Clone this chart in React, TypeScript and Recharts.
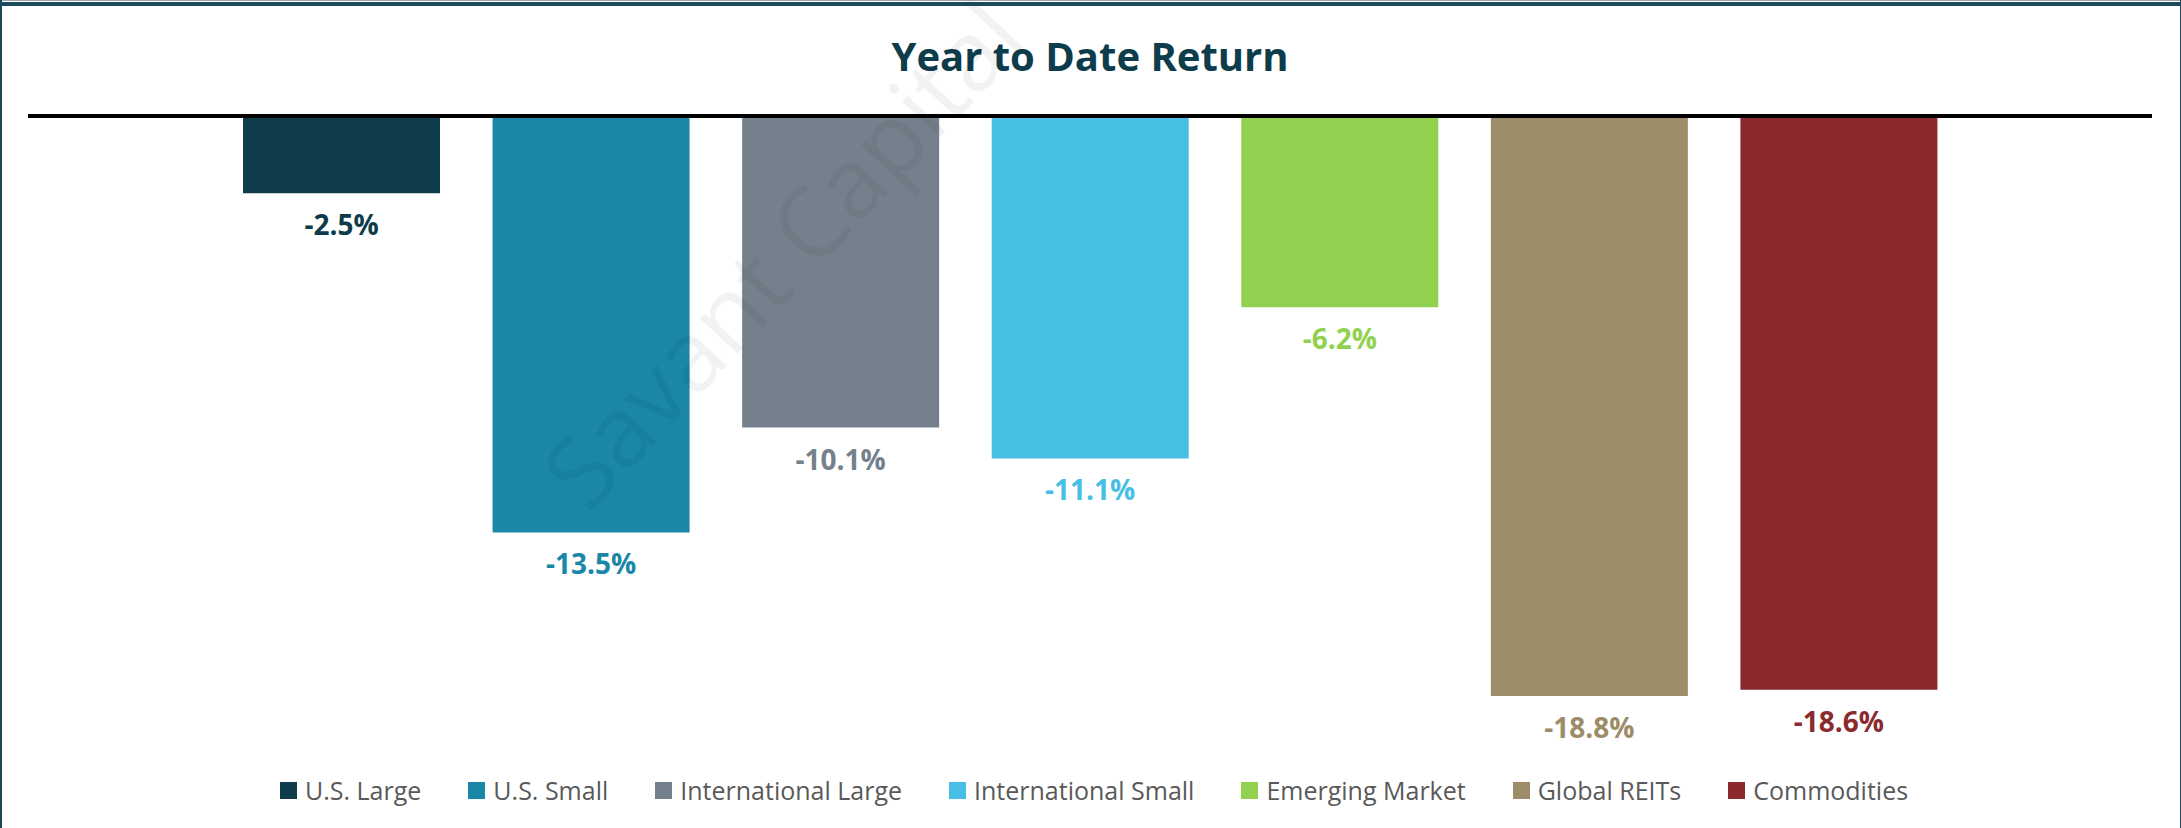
import { BarChart, Bar, XAxis, YAxis, Cell, LabelList, Legend, ReferenceLine } from "recharts";

// asset classes and their year-to-date returns (%)
const CATEGORIES = [
  "U.S. Large",
  "U.S. Small",
  "International Large",
  "International Small",
  "Emerging Market",
  "Global REITs",
  "Commodities",
];
const RETURNS = [-2.5, -13.5, -10.1, -11.1, -6.2, -18.8, -18.6];
const COLORS = ["#0e3c4a", "#1a87a8", "#74818c", "#47bfe4", "#92d050", "#9c8c68", "#8b2a2e"];

const data = CATEGORIES.map((name, i) => ({ name, value: RETURNS[i], color: COLORS[i] }));

const W = 2181;
const H = 828;
const FONT = "'Open Sans', 'DejaVu Sans', sans-serif";

function ValueLabel(props: any) {
  const { x, y, width, height, index } = props;
  const bottom = Math.max(y, y + height);
  return (
    <text
      x={x + width / 2}
      y={bottom + 42}
      textAnchor="middle"
      fontFamily={FONT}
      fontWeight={700}
      fontSize={28}
      fill={COLORS[index]}
    >
      {RETURNS[index].toFixed(1)}%
    </text>
  );
}

function LegendRow() {
  return (
    <div style={{ display: "flex", alignItems: "center", height: 40, fontFamily: FONT, fontSize: 25, color: "#595959" }}>
      {CATEGORIES.map((c, i) => (
        <div key={c} style={{ display: "flex", alignItems: "center", marginRight: 47, whiteSpace: "nowrap" }}>
          <span style={{ display: "inline-block", width: 17, height: 17, background: COLORS[i], marginRight: 8 }} />
          <span style={{ lineHeight: "40px" }}>{c}</span>
        </div>
      ))}
    </div>
  );
}

export default function App() {
  return (
    <div style={{ position: "absolute", left: 0, top: 0, width: W, height: H, background: "#fff", overflow: "hidden" }}>
      <BarChart
        width={W}
        height={H}
        data={data}
        margin={{ top: 116, right: 29, left: 28, bottom: 95 }}
      >
        <YAxis hide domain={[-20, 0]} />
        <XAxis
          dataKey="name"
          orientation="top"
          height={0}
          tick={false}
          tickLine={false}
          axisLine={false}
          padding={{ left: 189, right: 188 }}
        />
        <Bar dataKey="value" barSize={197} isAnimationActive={false}>
          {data.map((d) => (
            <Cell key={d.name} fill={d.color} />
          ))}
          <LabelList dataKey="value" content={ValueLabel} />
        </Bar>
        <ReferenceLine y={0} stroke="#000" strokeWidth={4} />
        <Legend
          layout="horizontal"
          verticalAlign="middle"
          align="center"
          content={() => <LegendRow />}
          wrapperStyle={{ top: 770, left: 280, width: "auto", height: 40 }}
        />
      </BarChart>

      {/* title + faint watermark */}
      <svg width={W} height={H} style={{ position: "absolute", left: 0, top: 0, pointerEvents: "none" }}>
        <text
          x={1090}
          y={71}
          textAnchor="middle"
          fontFamily={FONT}
          fontWeight={700}
          fontSize={40}
          fill="#0d3c4b"
        >
          Year to Date Return
        </text>
        <text
          x={588}
          y={515}
          transform="rotate(-47 588 515)"
          fontFamily={FONT}
          fontSize={98}
          fill="#000"
          fillOpacity={0.05}
        >
          Savant Capital
        </text>
      </svg>

      {/* frame */}
      <div style={{ position: "absolute", left: 0, top: 0, width: W, height: 1, background: "#9aa6ab" }} />
      <div style={{ position: "absolute", left: 0, top: 2, width: W, height: 4, background: "#1b4a5c" }} />
      <div style={{ position: "absolute", left: 0, top: 0, width: 2, height: H, background: "#1b4a5c" }} />
      <div style={{ position: "absolute", left: W - 1, top: 0, width: 1, height: H, background: "#1b4a5c" }} />
    </div>
  );
}
